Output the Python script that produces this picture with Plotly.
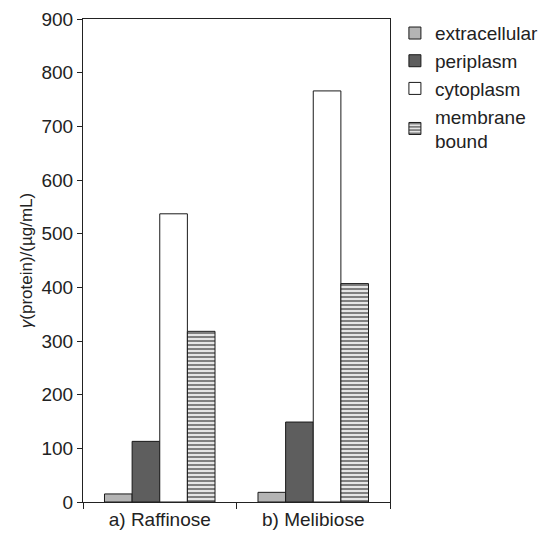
import plotly.graph_objects as go

categories = ["a) Raffinose", "b) Melibiose"]
extracellular = [15, 18]
periplasm = [113, 149]
cytoplasm = [537, 766]
membrane_bound = [318, 407]
y_ticks = [0, 100, 200, 300, 400, 500, 600, 700, 800, 900]

fig = go.Figure()
line = dict(color="#1a1a1a", width=1)
fig.add_bar(x=categories, y=extracellular, name="extracellular",
            marker=dict(color="#b4b4b4", line=line))
fig.add_bar(x=categories, y=periplasm, name="periplasm",
            marker=dict(color="#5e5e5e", line=line))
fig.add_bar(x=categories, y=cytoplasm, name="cytoplasm",
            marker=dict(color="white", line=line))
fig.add_bar(x=categories, y=membrane_bound, name="membrane<br>bound",
            marker=dict(color="white", line=line,
                        pattern=dict(shape="-", fgcolor="#000000", bgcolor="white",
                                     size=4, solidity=0.6, fillmode="overlay")))

font = "Liberation Sans, Arial, sans-serif"
fig.update_layout(
    width=542, height=534,
    margin=dict(l=83, r=152, t=19, b=32, autoexpand=False),
    paper_bgcolor="white", plot_bgcolor="white",
    barmode="group", bargap=0.28, bargroupgap=0,
    font=dict(family=font, size=19, color="#222222"),
    legend=dict(x=1.016, y=1.01, xanchor="left", yanchor="top",
                font=dict(size=19), tracegroupgap=0, itemwidth=30,
                bgcolor="rgba(0,0,0,0)"),
    xaxis=dict(showline=True, linecolor="#222222", linewidth=1, mirror=True,
               ticks="outside", tickson="boundaries", ticklen=6, tickcolor="#222222",
               tickfont=dict(size=19), showgrid=False, automargin=False),
    yaxis=dict(range=[0, 900], tickvals=y_ticks, showline=True, linecolor="#222222",
               linewidth=1, mirror=True, ticks="outside", ticklen=5, tickcolor="#222222",
               tickfont=dict(size=19), showgrid=False, zeroline=False, automargin=False,
               title=dict(text="<i>γ</i>(protein)/(µg/mL)", font=dict(size=17), standoff=4)),
)
fig.write_html("out.html", config={"displayModeBar": False},
               post_script="document.body.style.margin='0';")
